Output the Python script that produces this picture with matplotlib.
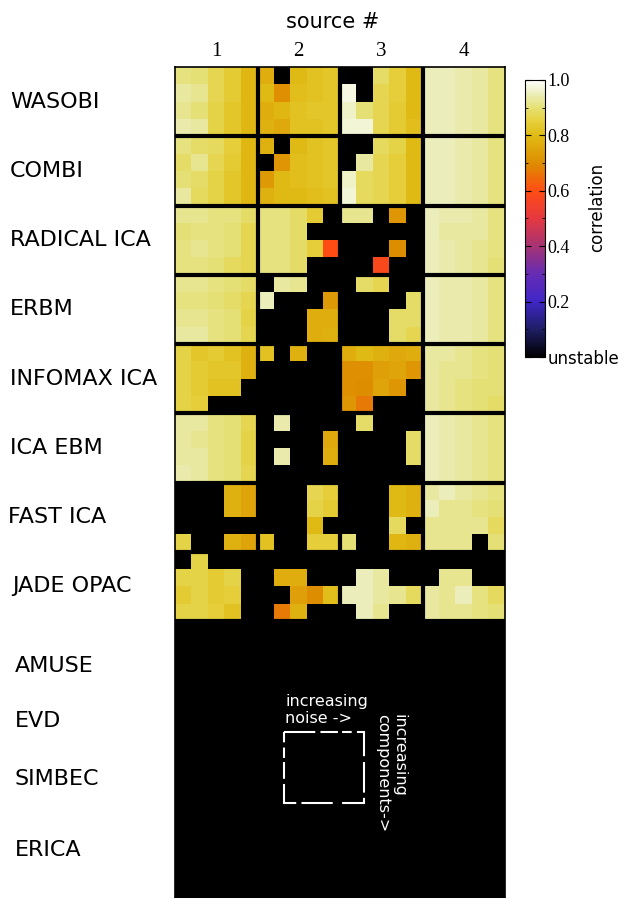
import numpy as np
import matplotlib
matplotlib.use('Agg')
import matplotlib.pyplot as plt
import matplotlib.transforms as mtransforms
from matplotlib.colors import LinearSegmentedColormap, Normalize
from matplotlib.cm import ScalarMappable
from matplotlib.patches import Rectangle
from matplotlib.ticker import MultipleLocator

# 4 rows (components) x 20 columns (4 sources x 5 noise levels), 0 = unstable
wasobi = [
    [.91, .90, .87, .84, .79, .77, 0, .80, .82, .83, 0, 0, .89, .85, .80, .95, .95, .94, .93, .91],
    [.93, .92, .87, .84, .79, .80, .71, .81, .82, .83, .98, 0, .87, .85, .80, .95, .95, .94, .93, .91],
    [.92, .90, .86, .83, .79, .77, .79, .82, .83, .83, .96, .90, .87, .84, .80, .95, .95, .94, .93, .91],
    [.94, .93, .86, .83, .79, .78, .76, .82, .82, .83, .97, .97, .87, .84, .81, .95, .95, .94, .93, .91],
]
combi = [
    [.91, .89, .88, .85, .79, .78, 0, .80, .82, .83, 0, 0, .88, .86, .80, .95, .95, .94, .93, .91],
    [.89, .92, .87, .84, .79, 0, .72, .81, .82, .83, 0, .93, .87, .85, .80, .95, .95, .94, .93, .91],
    [.90, .89, .86, .83, .79, .73, .80, .81, .82, .83, .96, .88, .87, .85, .80, .95, .95, .94, .93, .91],
    [.93, .88, .86, .83, .79, .78, .80, .80, .81, .82, .97, .88, .87, .85, .80, .95, .95, .94, .93, .91],
]
radical_ica = [
    [.92, .92, .91, .91, .89, .91, .91, .89, .84, 0, .92, .92, 0, .72, 0, .95, .94, .94, .93, .91],
    [.90, .91, .91, .90, .87, .91, .91, .89, 0, 0, 0, 0, 0, 0, 0, .95, .93, .93, .93, .91],
    [.91, .92, .91, .90, .87, .91, .91, .89, .85, .60, 0, 0, 0, .70, 0, .95, .94, .93, .92, .91],
    [.91, .91, .90, .88, .87, .91, .91, .89, 0, 0, 0, 0, .58, 0, 0, .95, .94, .93, .92, .90],
]
erbm = [
    [.92, .92, .91, .90, .89, 0, .93, .92, 0, 0, 0, .89, .87, 0, 0, .95, .94, .94, .93, .91],
    [.91, .91, .90, .89, .87, .95, 0, 0, 0, .73, 0, 0, 0, 0, .89, .95, .94, .94, .93, .91],
    [.92, .92, .91, .90, .86, 0, 0, 0, .77, .77, 0, 0, 0, .89, .89, .95, .94, .94, .93, .91],
    [.93, .93, .91, .90, .87, 0, 0, 0, .77, .78, 0, 0, 0, .89, .87, .95, .94, .94, .93, .91],
]
infomax_ica = [
    [.86, .83, .84, .82, .78, .82, 0, .78, 0, 0, .77, .80, .78, .76, .77, .93, .93, .92, .91, .90],
    [.86, .84, .83, .83, .78, 0, 0, 0, 0, 0, .71, .71, .74, .75, .72, .93, .92, .92, .91, .90],
    [.86, .84, .82, .82, 0, 0, 0, 0, 0, 0, .71, .70, .75, .72, 0, .93, .92, .91, .90, .90],
    [.86, .85, 0, 0, 0, 0, 0, 0, 0, 0, .72, .67, 0, 0, 0, .93, .92, .91, .90, .89],
]
ica_ebm = [
    [.93, .93, .91, .90, .87, 0, .94, 0, 0, 0, 0, .89, 0, 0, 0, .95, .94, .93, .92, .91],
    [.93, .92, .91, .90, .86, 0, 0, 0, 0, .76, 0, 0, 0, 0, .89, .95, .94, .93, .92, .91],
    [.93, .93, .91, .90, .86, 0, .94, 0, 0, .77, 0, 0, 0, 0, .89, .95, .94, .93, .92, .91],
    [.94, .93, .91, .90, .87, 0, 0, 0, 0, 0, 0, 0, 0, 0, 0, .95, .94, .93, .92, .91],
]
fast_ica = [
    [0, 0, 0, .78, .75, 0, 0, 0, .87, .85, 0, 0, 0, .80, .78, .93, .95, .93, .92, .91],
    [0, 0, 0, .78, .75, 0, 0, 0, .86, .84, 0, 0, 0, .80, .78, .95, .92, .92, .91, .90],
    [0, 0, 0, 0, 0, 0, 0, 0, .80, 0, 0, 0, 0, .88, 0, .92, .92, .92, .92, .88],
    [.86, 0, 0, .78, .75, .82, 0, 0, .85, .85, .90, 0, 0, .79, .78, .92, .92, .92, 0, .90],
]
jade_opac = [
    [0, .86, 0, 0, 0, 0, 0, 0, 0, 0, 0, 0, 0, 0, 0, 0, 0, 0, 0, 0],
    [.86, .86, .84, .86, 0, 0, .77, .77, 0, 0, 0, .95, .93, 0, 0, 0, .92, .92, 0, 0],
    [.84, .86, .84, .85, 0, 0, 0, .74, .70, .81, .95, .95, .93, .92, .88, .93, .92, .95, .91, .88],
    [.86, .86, .85, .82, 0, 0, .67, .78, 0, 0, 0, .95, .92, 0, 0, .93, .92, .92, .91, .90],
]
# these four never give a stable source
amuse = np.zeros((4, 20))
evd = np.zeros((4, 20))
simbec = np.zeros((4, 20))
erica = np.zeros((4, 20))

algorithms = ['WASOBI', 'COMBI', 'RADICAL ICA', 'ERBM', 'INFOMAX ICA', 'ICA EBM',
              'FAST ICA', 'JADE OPAC', 'AMUSE', 'EVD', 'SIMBEC', 'ERICA']
sources = ['1', '2', '3', '4']
cbar_ticks = [0, 0.2, 0.4, 0.6, 0.8, 1.0]
cbar_labels = ['unstable', '0.2', '0.4', '0.6', '0.8', '1.0']

grid = np.vstack([wasobi, combi, radical_ica, erbm, infomax_ica, ica_ebm,
                  fast_ica, jade_opac, amuse, evd, simbec, erica])

# colormap
cmap = LinearSegmentedColormap.from_list('corr', [
    (0.0, (0, 0, 0)),
    (0.1, (0.12, 0.12, 0.40)),
    (0.2, (0.25, 0.15, 0.78)),
    (0.3, (0.40, 0.17, 0.70)),
    (0.4, (0.65, 0.20, 0.45)),
    (0.5, (0.90, 0.22, 0.25)),
    (0.6, (1.00, 0.30, 0.08)),
    (0.7, (0.87, 0.55, 0.00)),
    (0.8, (0.88, 0.73, 0.08)),
    (0.85, (0.90, 0.81, 0.22)),
    (0.9, (0.90, 0.88, 0.45)),
    (0.95, (0.92, 0.93, 0.72)),
    (1.0, (1, 1, 1)),
])
norm = Normalize(0, 1)

fig = plt.figure(figsize=(6.25, 8.98), dpi=100)
ax = fig.add_axes([175/625, 0, 330/625, 831/898])
ax.imshow(grid, cmap=cmap, norm=norm, aspect='auto', interpolation='nearest',
          extent=(0, 20, 48, 0))

# block separators
for k in (5, 10, 15):
    ax.axvline(k, color='black', lw=3)
for k in range(4, 48, 4):
    ax.axhline(k, color='black', lw=3)
for s in ax.spines.values():
    s.set_color('black')
    s.set_linewidth(1.2)

ax.xaxis.tick_top()
ax.set_xticks([2.5, 7.5, 12.5, 17.5])
ax.set_xticklabels(sources, fontfamily='Liberation Serif', fontsize=15)
ax.tick_params(axis='x', length=0, pad=4)
ax.set_yticks([])
fig.text(333/625, 1 - 22/898, 'source #', ha='center', va='center', fontsize=15)

# algorithm names
label_x = [10, 10, 10, 10, 10, 10, 8, 12, 15, 15, 15, 15]
label_y = [2, 6, 10, 14, 18, 22, 26, 30, 34.6, 37.8, 41.1, 45.2]
trans = mtransforms.blended_transform_factory(fig.transFigure, ax.transData)
for name, lx, ly in zip(algorithms, label_x, label_y):
    ax.text(lx/625, ly, name, transform=trans, ha='left', va='center', fontsize=16)

# legend for the blocks
ax.text(6.67, 36.2, 'increasing\nnoise ->', color='white', fontsize=11.5,
        ha='left', va='top', linespacing=1.15)
ax.add_patch(Rectangle((6.6, 38.4), 4.85, 4.1, fill=False, edgecolor='white',
                       lw=1.5, linestyle=(0, (15, 2.5))))
ax.text(12.12, 37.4, 'increasing\ncomponents->', color='white', fontsize=11.5,
        rotation=-90, ha='left', va='top', linespacing=1.15)

# colour bar
cax = fig.add_axes([525/625, 1 - 357/898, 20/625, 277/898])
cb = fig.colorbar(ScalarMappable(norm=norm, cmap=cmap), cax=cax)
cb.set_ticks(cbar_ticks)
cb.set_ticklabels(cbar_labels)
for lbl in cax.get_yticklabels():
    if lbl.get_text() == 'unstable':
        lbl.set_fontfamily('DejaVu Sans')
        lbl.set_fontsize(12)
    else:
        lbl.set_fontfamily('Liberation Serif')
        lbl.set_fontsize(13)
cax.yaxis.set_minor_locator(MultipleLocator(0.1))
cax.tick_params(which='both', direction='in', left=True, right=True, pad=2)
cax.tick_params(which='major', length=4)
cax.tick_params(which='minor', length=2)
cb.outline.set_linewidth(0.8)
fig.text(597/625, 1 - 207/898, 'correlation', rotation=90, ha='center', va='center',
         fontsize=12)

fig.savefig('out.png', dpi=100)
